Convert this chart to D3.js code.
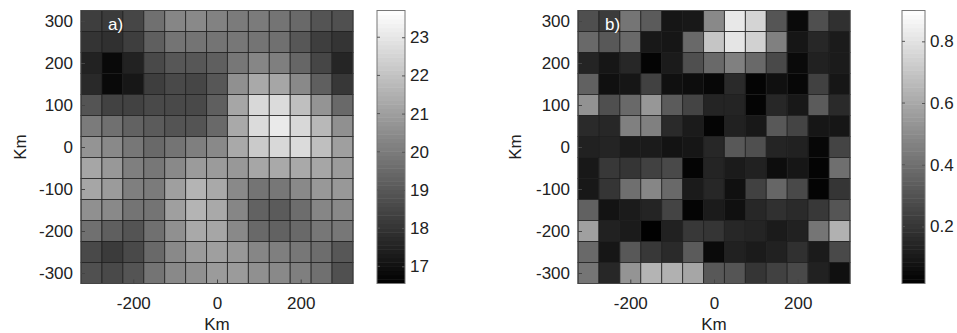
<!DOCTYPE html>
<html>
<head>
<meta charset="utf-8">
<script src="https://cdn.jsdelivr.net/npm/d3@7"></script>
<style>
  body { margin: 0; background: #fff; }
  text { font-family: "Liberation Sans", Arial, sans-serif; fill: #222; }
</style>
</head>
<body>
<div id="app"></div>
<script>
// cell centres (km), same on both axes
const kmCenters = [-300, -250, -200, -150, -100, -50, 0, 50, 100, 150, 200, 250, 300];
const yTicks = [-300, -200, -100, 0, 100, 200, 300];
const xTicks = [-200, 0, 200];

// panel a) rows listed from top (y = 300) to bottom (y = -300)
const tempA = [
  [18.3, 18.2, 18.5, 19.7, 20.3, 20.4, 20.2, 20.0, 20.0, 19.8, 19.5, 18.9, 18.8],
  [18.0, 17.9, 18.3, 19.2, 19.8, 19.8, 19.8, 19.9, 19.8, 19.7, 19.0, 18.3, 18.0],
  [17.5, 16.8, 17.5, 18.6, 19.0, 19.0, 19.2, 19.9, 20.3, 20.1, 19.4, 18.5, 17.6],
  [17.7, 16.8, 17.2, 18.3, 18.6, 18.5, 19.0, 20.6, 21.3, 21.2, 20.4, 19.2, 18.1],
  [18.9, 18.4, 18.4, 18.6, 18.6, 18.6, 19.2, 21.2, 22.6, 22.7, 21.9, 20.7, 19.5],
  [20.0, 19.7, 19.3, 19.1, 18.9, 18.9, 19.5, 21.3, 22.7, 23.1, 22.6, 21.7, 20.6],
  [20.7, 20.4, 19.9, 19.5, 19.8, 20.1, 20.4, 21.3, 22.2, 22.6, 22.7, 21.9, 21.0],
  [21.2, 20.8, 20.1, 19.9, 20.4, 20.9, 20.9, 20.8, 21.2, 21.3, 21.3, 21.2, 20.9],
  [21.2, 20.9, 20.1, 20.0, 21.0, 21.6, 21.3, 20.4, 19.8, 19.9, 20.4, 20.8, 20.8],
  [20.6, 20.4, 19.8, 19.8, 21.0, 21.6, 21.3, 20.3, 19.3, 19.1, 19.6, 20.3, 20.4],
  [19.7, 19.2, 18.9, 19.7, 20.6, 21.3, 21.2, 20.4, 19.5, 19.3, 19.5, 19.9, 19.9],
  [18.6, 18.2, 18.6, 19.5, 20.4, 20.9, 21.0, 20.8, 20.3, 20.1, 19.9, 19.6, 19.0],
  [18.8, 18.6, 18.9, 19.8, 20.4, 20.6, 20.9, 20.9, 20.6, 20.4, 20.1, 19.7, 18.8]
];

// panel b) rows listed from top (y = 300) to bottom (y = -300)
const valueB = [
  [0.29, 0.22, 0.42, 0.33, 0.09, 0.10, 0.49, 0.82, 0.75, 0.31, 0.05, 0.29, 0.18],
  [0.38, 0.32, 0.38, 0.10, 0.09, 0.38, 0.70, 0.81, 0.74, 0.46, 0.09, 0.15, 0.11],
  [0.14, 0.09, 0.15, 0.03, 0.11, 0.29, 0.38, 0.46, 0.38, 0.27, 0.05, 0.13, 0.11],
  [0.35, 0.07, 0.09, 0.24, 0.07, 0.06, 0.04, 0.16, 0.03, 0.07, 0.04, 0.24, 0.09],
  [0.52, 0.29, 0.38, 0.54, 0.33, 0.25, 0.14, 0.14, 0.03, 0.15, 0.10, 0.33, 0.16],
  [0.16, 0.15, 0.46, 0.46, 0.16, 0.11, 0.03, 0.13, 0.10, 0.32, 0.25, 0.09, 0.09],
  [0.13, 0.14, 0.11, 0.11, 0.08, 0.09, 0.15, 0.32, 0.29, 0.14, 0.13, 0.04, 0.25],
  [0.10, 0.21, 0.20, 0.24, 0.27, 0.03, 0.14, 0.11, 0.13, 0.06, 0.09, 0.03, 0.40],
  [0.10, 0.20, 0.40, 0.48, 0.38, 0.11, 0.15, 0.07, 0.24, 0.37, 0.27, 0.03, 0.20],
  [0.35, 0.08, 0.11, 0.14, 0.25, 0.03, 0.11, 0.07, 0.15, 0.18, 0.16, 0.21, 0.31],
  [0.57, 0.13, 0.11, 0.02, 0.13, 0.21, 0.20, 0.15, 0.14, 0.11, 0.13, 0.42, 0.63],
  [0.38, 0.09, 0.32, 0.21, 0.16, 0.33, 0.05, 0.13, 0.11, 0.13, 0.18, 0.11, 0.27],
  [0.42, 0.15, 0.53, 0.64, 0.63, 0.59, 0.32, 0.31, 0.20, 0.24, 0.27, 0.13, 0.07]
];

const rangeA = [16.55, 23.7];
const rangeB = [0.015, 0.9];
const cbTicksA = [17, 18, 19, 20, 21, 22, 23];
const cbTicksB = [0.2, 0.4, 0.6, 0.8];

const W = 957, H = 333;
const svg = d3.select('#app').append('svg').attr('width', W).attr('height', H);

const gray = t => { const c = Math.round(Math.max(0, Math.min(1, t)) * 255); return `rgb(${c},${c},${c})`; };
// plain hyphen minus, like the original figure
const plain = d => String(d);

const panels = [
  { id: 'a', label: 'a)', data: tempA, range: rangeA, cbTicks: cbTicksA, fmt: plain,
    x0: 81, x1: 353, yLabelX: 20, cbX: 377, cbW: 28 },
  { id: 'b', label: 'b)', data: valueB, range: rangeB, cbTicks: cbTicksB, fmt: d => d.toFixed(1),
    x0: 578, x1: 850, yLabelX: 515, cbX: 902, cbW: 23 }
];

const TOP = 10.5, BOTTOM = 283.5;
const HALF = 25;

panels.forEach(p => {
  const x = d3.scaleLinear().domain([-325, 325]).range([p.x0, p.x1]);
  const y = d3.scaleLinear().domain([-325, 325]).range([BOTTOM, TOP]);
  const color = d3.scaleLinear().domain(p.range).range([0, 1]);

  const g = svg.append('g').attr('id', `panel-${p.id}`);

  const cells = [];
  p.data.forEach((row, ri) => {
    row.forEach((v, ci) => {
      cells.push({ cx: kmCenters[ci], cy: kmCenters[kmCenters.length - 1 - ri], v });
    });
  });

  g.append('g').selectAll('rect')
    .data(cells)
    .join('rect')
    .attr('x', d => x(d.cx - HALF))
    .attr('y', d => y(d.cy + HALF))
    .attr('width', d => x(d.cx + HALF) - x(d.cx - HALF))
    .attr('height', d => y(d.cy - HALF) - y(d.cy + HALF))
    .attr('fill', d => gray(color(d.v)))
    .attr('stroke', '#1c1c1c')
    .attr('stroke-opacity', 0.75)
    .attr('stroke-width', 1);

  // box
  g.append('rect')
    .attr('x', p.x0).attr('y', TOP)
    .attr('width', p.x1 - p.x0).attr('height', BOTTOM - TOP)
    .attr('fill', 'none').attr('stroke', '#444').attr('stroke-width', 1);

  const yAxis = g.append('g')
    .attr('transform', `translate(${p.x0},0)`)
    .call(d3.axisLeft(y).tickValues(yTicks).tickFormat(plain).tickSizeInner(-4).tickSizeOuter(0).tickPadding(8));
  const xAxis = g.append('g')
    .attr('transform', `translate(0,${BOTTOM})`)
    .call(d3.axisBottom(x).tickValues(xTicks).tickFormat(plain).tickSizeInner(-4).tickSizeOuter(0).tickPadding(13));

  [yAxis, xAxis].forEach(a => {
    a.select('.domain').remove();
    a.selectAll('.tick line').attr('stroke', '#444');
    a.selectAll('.tick text')
      .style('font-family', '"Liberation Sans", Arial, sans-serif')
      .style('font-size', '17px')
      .attr('fill', '#222');
  });

  g.append('text')
    .attr('x', (p.x0 + p.x1) / 2).attr('y', 330)
    .attr('text-anchor', 'middle')
    .style('font-size', '17px')
    .text('Km');

  g.append('text')
    .attr('transform', `translate(${p.yLabelX + 6},${(TOP + BOTTOM) / 2}) rotate(-90)`)
    .attr('text-anchor', 'middle')
    .style('font-size', '17px')
    .text('Km');

  g.append('text')
    .attr('x', p.x0 + 27).attr('y', 30)
    .style('font-size', '17px')
    .style('fill', '#fff')
    .text(p.label);

  // colorbar
  const cb = svg.append('g').attr('id', `colorbar-${p.id}`);
  const cy = d3.scaleLinear().domain(p.range).range([BOTTOM, TOP]);
  const steps = d3.range(64);
  const stepH = (BOTTOM - TOP) / 64;
  cb.selectAll('rect.step')
    .data(steps)
    .join('rect')
    .attr('class', 'step')
    .attr('x', p.cbX)
    .attr('y', i => BOTTOM - (i + 1) * stepH)
    .attr('width', p.cbW)
    .attr('height', stepH + 0.5)
    .attr('fill', i => gray((i + 0.5) / 64));
  cb.append('rect')
    .attr('x', p.cbX).attr('y', TOP)
    .attr('width', p.cbW).attr('height', BOTTOM - TOP)
    .attr('fill', 'none').attr('stroke', '#777');

  const cbAxis = cb.append('g')
    .attr('transform', `translate(${p.cbX + p.cbW},0)`)
    .call(d3.axisRight(cy).tickValues(p.cbTicks).tickFormat(p.fmt).tickSizeInner(-3).tickSizeOuter(0).tickPadding(5));
  cbAxis.select('.domain').remove();
  cbAxis.selectAll('.tick line').attr('stroke', '#555');
  cbAxis.selectAll('.tick text')
    .style('font-family', '"Liberation Sans", Arial, sans-serif')
    .style('font-size', '17px')
    .attr('fill', '#222');
  cb.append('g').selectAll('line')
    .data(p.cbTicks)
    .join('line')
    .attr('x1', p.cbX).attr('x2', p.cbX + 3)
    .attr('y1', d => cy(d)).attr('y2', d => cy(d))
    .attr('stroke', '#555');
});
</script>
</body>
</html>
